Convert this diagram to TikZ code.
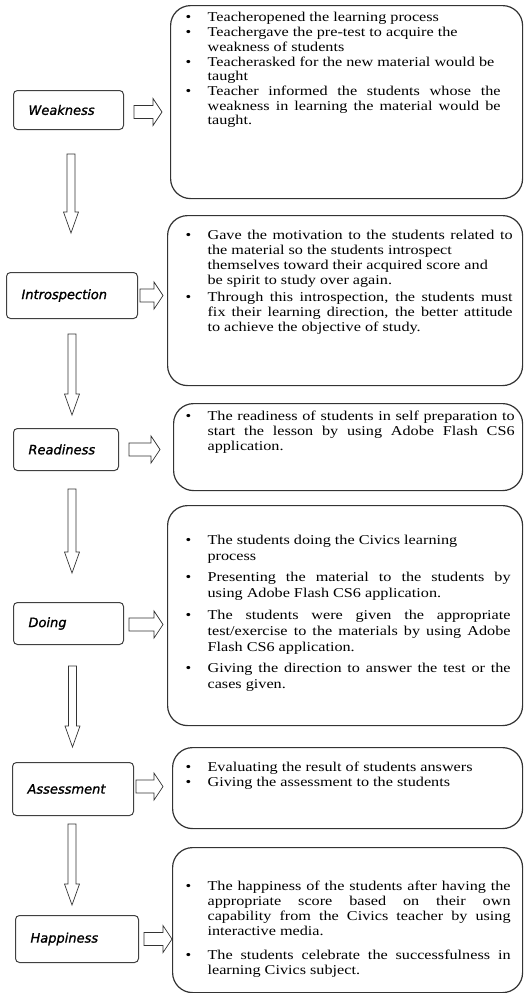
\documentclass[tikz,border=0pt]{standalone}
\usepackage{fontspec}
\setmainfont{Liberation Serif}[FakeStretch=1.2]
\newfontfamily\etapfont{DejaVu Sans}[ItalicFont={DejaVu Sans Oblique}, ItalicFeatures={FakeBold=1.2}]
\usepackage{tikz}
\usetikzlibrary{calc}
\newcommand{\pkt}{\par\hangindent=22pt\hangafter=1\noindent\strut\makebox[22pt][l]{\textbullet}}
\newcommand{\opistekst}[8]{\parbox[c][#2][t]{#1}{\fontsize{13.5pt}{#6}\selectfont
  \leftskip=#4\relax\rightskip=#5\relax\parskip=#7\relax\parindent=0pt
  \tolerance=10000\hyphenpenalty=10000\vspace*{#3}#8}}
\tikzset{
  etap/.style   = {draw=black!75, rounded corners=4pt, line width=1pt, anchor=north west,
                   inner xsep=15pt, align=left, font=\etapfont\itshape\fontsize{13pt}{15pt}\selectfont},
  opis/.style   = {draw=black!80, rounded corners=20pt, line width=1.2pt, anchor=north west, inner sep=0pt},
  strzalkaprawo/.style = {draw=black!80, line width=0.7pt, to path={
      let \p1=(\tikztostart), \p2=(\tikztotarget) in
      (\x1,\y1+6.5pt) -- (\x2-9pt,\y1+6.5pt) -- (\x2-9pt,\y1+13.5pt) -- (\x2,\y1)
      -- (\x2-9pt,\y1-13.5pt) -- (\x2-9pt,\y1-6.5pt) -- (\x1,\y1-6.5pt) -- cycle}},
  strzalkadol/.style = {draw=black!80, line width=0.7pt, to path={
      let \p1=(\tikztostart), \p2=(\tikztotarget) in
      (\x1-4pt,\y1) -- (\x1-4pt,\y2+21pt) -- (\x1-7.5pt,\y2+21pt) -- (\x1,\y2)
      -- (\x1+7.5pt,\y2+21pt) -- (\x1+4pt,\y2+21pt) -- (\x1+4pt,\y1) -- cycle}},
}
\begin{document}
\begin{tikzpicture}[x=1pt, y=-1pt]
  \useasboundingbox (0,0) rectangle (529,993);

  \node[etap, text width=80pt, minimum height=39pt] (wk) at (13,90) {Weakness};
  \node[etap, text width=101pt, minimum height=46pt] (in) at (6,272) {Introspection};
  \node[etap, text width=75pt, minimum height=42pt] (rd) at (13,428) {Readiness};
  \node[etap, text width=80pt, minimum height=42pt] (dg) at (13,602) {Doing};
  \node[etap, text width=91pt, minimum height=53pt] (as) at (12,762) {Assessment};
  \node[etap, text width=93pt, minimum height=47pt] (hp) at (15,915) {Happiness};

  \node[opis] (o1) at (170,5) {\opistekst{352pt}{193pt}{5.5pt}{15pt}{22pt}{14.5pt}{0.5pt}{%
    \pkt Teacheropened the learning process
    \pkt Teachergave the pre-test to acquire the\\ weakness of students
    \pkt Teacherasked for the new material would be\\ taught
    \pkt Teacher informed the students whose the\linebreak weakness in learning the material would be\linebreak taught.}};
  \node[opis] (o2) at (167,215) {\opistekst{355pt}{170pt}{11.5pt}{18pt}{10pt}{15pt}{2pt}{%
    \pkt Gave the motivation to the students related to\linebreak the material so the students introspect\\ themselves toward their acquired score and\\ be spirit to study over again.
    \pkt Through this introspection, the students must\linebreak fix their learning direction, the better attitude\linebreak to achieve the objective of study.}};
  \node[opis] (o3) at (173,403) {\opistekst{349pt}{87pt}{6.5pt}{12pt}{8pt}{15pt}{0pt}{%
    \pkt The readiness of students in self preparation to\linebreak start the lesson by using Adobe Flash CS6\linebreak application.}};
  \node[opis] (o4) at (167,505) {\opistekst{355pt}{220pt}{22pt}{18pt}{12pt}{16pt}{5.5pt}{%
    \pkt The students doing the Civics learning\\ process
    \pkt Presenting the material to the students by\linebreak using Adobe Flash CS6 application.
    \pkt The students were given the appropriate\linebreak test/exercise to the materials by using Adobe\linebreak Flash CS6 application.
    \pkt Giving the direction to answer the test or the\linebreak cases given.}};
  \node[opis] (o5) at (172,747) {\opistekst{350pt}{81pt}{13.5pt}{13pt}{12pt}{15pt}{0pt}{%
    \pkt Evaluating the result of students answers
    \pkt Giving the assessment to the students}};
  \node[opis] (o6) at (172,847) {\opistekst{350pt}{145pt}{23pt}{13pt}{12pt}{15pt}{9pt}{%
    \pkt The happiness of the students after having the\linebreak appropriate score based on their own\linebreak capability from the Civics teacher by using\linebreak interactive media.
    \pkt The students celebrate the successfulness in\linebreak learning Civics subject.}};

  \draw[strzalkaprawo] ([shift={(10pt,-2pt)}]wk.east) to ([xshift=-8pt]o1.west);
  \draw[strzalkaprawo] ([xshift=2pt]in.east) to ([xshift=-4pt]o2.west);
  \draw[strzalkaprawo] ([xshift=10pt]rd.east) to ([xshift=-13pt]o3.west);
  \draw[strzalkaprawo] ([shift={(5pt,-1pt)}]dg.east) to ([xshift=-4pt]o4.west);
  \draw[strzalkaprawo] ([shift={(2pt,2.5pt)}]as.east) to ([xshift=-9pt]o5.west);
  \draw[strzalkaprawo] ([xshift=5pt]hp.east) to (o6.west);

  \draw[strzalkadol] ([shift={(2.5pt,-24pt)}]wk.south) to ([yshift=39pt]in.north);
  \draw[strzalkadol] ([yshift=-15pt]in.south) to ([yshift=13pt]rd.north);
  \draw[strzalkadol] ([shift={(6pt,-18pt)}]rd.south) to ([yshift=29pt]dg.north);
  \draw[strzalkadol] ([shift={(4pt,-21pt)}]dg.south) to ([yshift=15pt]as.north);
  \draw[strzalkadol] ([shift={(-1pt,-8pt)}]as.south) to ([yshift=10pt]hp.north);
\end{tikzpicture}
\end{document}
